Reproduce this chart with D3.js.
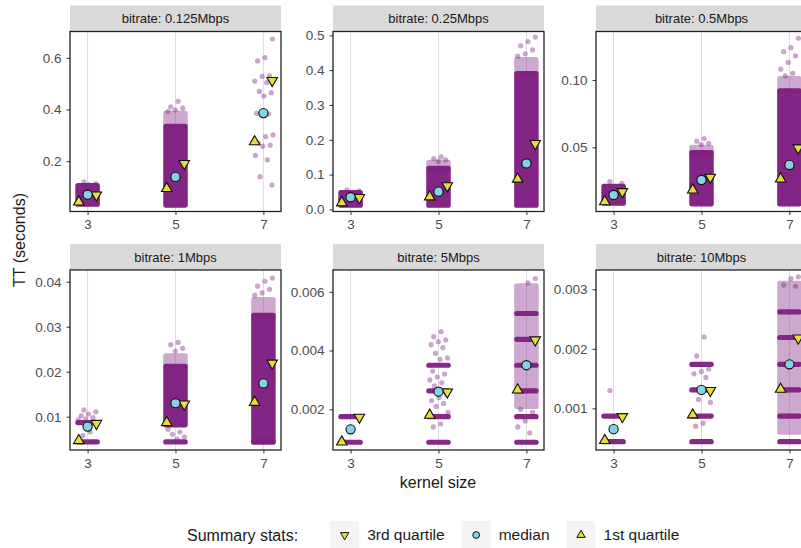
<!DOCTYPE html>
<html>
<head>
<meta charset="utf-8">
<script src="https://cdn.jsdelivr.net/npm/d3@7"></script>
<style>
  body { margin: 0; background: #fff; }
  svg { display: block; font-family: "Liberation Sans", Arial, sans-serif; }
</style>
</head>
<body>
<svg id="chart" width="801" height="548"></svg>
<script>
// facet labels and x categories
const bitrates = ["0.125Mbps", "0.25Mbps", "0.5Mbps", "1Mbps", "5Mbps", "10Mbps"];
const kernels = [3, 5, 7];

// y axis per facet (free scales)
const yDomains = [
  [0.005, 0.702], [-0.006, 0.511], [0.0023, 0.136],
  [0.0026, 0.0426], [0.000616, 0.00674], [0.0003, 0.003324]
];
const yTicks = [
  [0.2, 0.4, 0.6], [0, 0.1, 0.2, 0.3, 0.4, 0.5], [0.05, 0.1],
  [0.01, 0.02, 0.03, 0.04], [0.002, 0.004, 0.006], [0.001, 0.002, 0.003]
];
const yTickLabels = [
  ["0.2", "0.4", "0.6"], ["0.0", "0.1", "0.2", "0.3", "0.4", "0.5"], ["0.05", "0.10"],
  ["0.01", "0.02", "0.03", "0.04"], ["0.002", "0.004", "0.006"], ["0.001", "0.002", "0.003"]
];

// summary stats, [facet][kernel]
const q1 = [
  [0.042, 0.094, 0.275],
  [0.019, 0.036, 0.087],
  [0.0096, 0.0183, 0.0265],
  [0.0047, 0.0087, 0.0132],
  [0.00089, 0.0018, 0.00266],
  [0.00046, 0.00089, 0.00132]
];
const medians = [
  [0.07, 0.139, 0.386],
  [0.035, 0.051, 0.132],
  [0.0146, 0.0257, 0.0369],
  [0.0078, 0.013, 0.0174],
  [0.00132, 0.0026, 0.0035],
  [0.00065, 0.00131, 0.00174]
];
const q3 = [
  [0.069, 0.191, 0.512],
  [0.034, 0.068, 0.189],
  [0.017, 0.0277, 0.0495],
  [0.0085, 0.0128, 0.0219],
  [0.00173, 0.00259, 0.00436],
  [0.00086, 0.0013, 0.00218]
];

// raw TT observations: solid clouds, lighter clouds, repeated timer levels, loose points
const denseRanges = [
  [[[0.033, 0.105]], [[0.03, 0.335]], []],
  [[[0.012, 0.048]], [[0.012, 0.118]], [[0.012, 0.39]]],
  [[[0.0085, 0.021]], [[0.008, 0.046]], [[0.008, 0.092]]],
  [[], [[0.0082, 0.0212]], [[0.0044, 0.0325]]],
  [[], [], []],
  [[], [], []]
];
const sparseRanges = [
  [[], [[0.335, 0.385]], []],
  [[], [[0.118, 0.135]], [[0.39, 0.43]]],
  [[], [[0.046, 0.05]], [[0.092, 0.101]]],
  [[], [[0.0212, 0.0235]], [[0.0325, 0.036]]],
  [[], [], [[0.0021, 0.0062]]],
  [[], [], [[0.0006, 0.0031]]]
];
const bandLevels = [
  [[], [], []],
  [[], [], []],
  [[], [], []],
  [[0.0044, 0.0087], [0.0044], [0.0044]],
  [[0.00088, 0.00175], [0.00088, 0.00175, 0.00263, 0.0035],
   [0.00088, 0.00175, 0.00263, 0.0035, 0.00438, 0.00526]],
  [[0.00044, 0.00087], [0.00044, 0.00087, 0.00131, 0.00174],
   [0.00044, 0.00087, 0.00131, 0.00174, 0.00219, 0.00262]]
];
const scatterValues = [
  [[0.12, 0.113, 0.109],
   [0.432, 0.41, 0.405, 0.398, 0.392],
   [0.673, 0.601, 0.588, 0.53, 0.528, 0.51, 0.504, 0.47, 0.465, 0.452, 0.385, 0.383,
    0.38, 0.302, 0.295, 0.27, 0.262, 0.258, 0.222, 0.205, 0.14, 0.108]],
  [[0.056, 0.053],
   [0.151, 0.146, 0.142, 0.138],
   [0.495, 0.482, 0.47, 0.458, 0.447, 0.44]],
  [[0.0245, 0.0232],
   [0.0565, 0.0545, 0.053, 0.052],
   [0.131, 0.124, 0.121, 0.118, 0.113, 0.108, 0.105, 0.103]],
  [[0.0115, 0.0111, 0.0106, 0.0102, 0.0098, 0.0095, 0.0093, 0.0066, 0.0058],
   [0.0265, 0.026, 0.0252, 0.0246, 0.0072, 0.0066, 0.0061, 0.0055, 0.005],
   [0.0408, 0.0401, 0.039, 0.0383, 0.0375, 0.037]],
  [[],
   [0.00464, 0.00447, 0.00436, 0.0043, 0.0042, 0.0041, 0.0039, 0.00375, 0.0037, 0.0033,
    0.0032, 0.0031, 0.003, 0.0029, 0.0028, 0.0025, 0.0024, 0.0023, 0.0022, 0.0021,
    0.0019, 0.0015, 0.0014],
   [0.00645, 0.0063, 0.002, 0.0019, 0.0016, 0.0014, 0.0012]],
  [[0.0013],
   [0.0022, 0.00188, 0.00166, 0.00162, 0.00158, 0.00152, 0.00115, 0.0011, 0.00075, 0.0007],
   [0.00321, 0.00318, 0.00307, 0.00305]]
];

const legendLabels = ["3rd quartile", "median", "1st quartile"];

const purple = "#7e1e80";
const yellow = "#e4de3c";
const blue = "#84d2e2";
const jit = 0.22;
const r = 2.6;

const svg = d3.select("#chart");
svg.append("rect").attr("width", 801).attr("height", 548).attr("fill", "#fff");

const panelW = 211;
const panelH = 180;
const panelLeft = [70, 333, 596];
const panelTop = [31.5, 270];
const stripH = 26;

const triUp = d3.symbol().type(d3.symbolTriangle).size(48);
const triUpSmall = d3.symbol().type(d3.symbolTriangle).size(30);

function jitterOffset(i) {
  return (((i * 0.618034 + 0.31) % 1) * 2 - 1) * jit;
}

bitrates.forEach((rate, p) => {
  const left = panelLeft[p % 3];
  const top = panelTop[Math.floor(p / 3)];
  const x = d3.scaleLinear().domain([2.6, 7.4]).range([left, left + panelW]);
  const y = d3.scaleLinear().domain(yDomains[p]).range([top + panelH, top]);

  const g = svg.append("g");
  const clipId = `clip-${p}`;
  g.append("clipPath").attr("id", clipId)
    .append("rect").attr("x", left).attr("y", top).attr("width", panelW).attr("height", panelH);

  // strip
  g.append("rect")
    .attr("x", left).attr("y", top - stripH)
    .attr("width", panelW).attr("height", stripH)
    .attr("fill", "#d9d9d9");
  g.append("text")
    .attr("x", left + panelW / 2).attr("y", top - stripH / 2)
    .attr("dy", "0.35em").attr("text-anchor", "middle")
    .attr("font-size", 13).attr("fill", "#1a1a1a")
    .text(`bitrate: ${rate}`);

  const plot = g.append("g").attr("clip-path", `url(#${clipId})`);

  plot.selectAll("line.grid")
    .data(kernels)
    .join("line")
    .attr("x1", (d) => x(d)).attr("x2", (d) => x(d))
    .attr("y1", top).attr("y2", top + panelH)
    .attr("stroke", "#dcdcdc").attr("stroke-width", 1);

  kernels.forEach((k, ki) => {
    const rangeRect = (sel, ranges, opacity) => {
      sel.selectAll(null)
        .data(ranges)
        .join("rect")
        .attr("x", x(k - jit) - r)
        .attr("width", x(k + jit) - x(k - jit) + 2 * r)
        .attr("y", (d) => y(d[1]) - r)
        .attr("height", (d) => y(d[0]) - y(d[1]) + 2 * r)
        .attr("rx", r)
        .attr("fill", purple)
        .attr("opacity", opacity);
    };
    rangeRect(plot, sparseRanges[p][ki], 0.38);
    rangeRect(plot, denseRanges[p][ki], 0.97);
    rangeRect(plot, bandLevels[p][ki].map((v) => [v, v]), 0.95);

    plot.selectAll(null)
      .data(scatterValues[p][ki])
      .join("circle")
      .attr("cx", (d, i) => x(k + jitterOffset(i + ki * 7)))
      .attr("cy", (d) => y(d))
      .attr("r", r)
      .attr("fill", purple)
      .attr("opacity", 0.4);
  });

  // summary markers
  const stats = g.append("g");
  stats.selectAll(null)
    .data(kernels)
    .join("path")
    .attr("d", triUp)
    .attr("transform", (d, i) => `translate(${x(d - 0.2)},${y(q1[p][i])})`)
    .attr("fill", yellow).attr("stroke", "#111").attr("stroke-width", 1.1);
  stats.selectAll(null)
    .data(kernels)
    .join("path")
    .attr("d", triUp)
    .attr("transform", (d, i) => `translate(${x(d + 0.2)},${y(q3[p][i])}) rotate(180)`)
    .attr("fill", yellow).attr("stroke", "#111").attr("stroke-width", 1.1);
  stats.selectAll(null)
    .data(kernels)
    .join("circle")
    .attr("cx", (d) => x(d))
    .attr("cy", (d, i) => y(medians[p][i]))
    .attr("r", 4.6)
    .attr("fill", blue).attr("stroke", "#111").attr("stroke-width", 1.1);

  // axes
  const yAxis = g.append("g")
    .attr("transform", `translate(${left},0)`)
    .call(d3.axisLeft(y).tickValues(yTicks[p])
      .tickFormat((d, i) => yTickLabels[p][i]).tickSize(3.5).tickPadding(5));
  const xAxis = g.append("g")
    .attr("transform", `translate(0,${top + panelH})`)
    .call(d3.axisBottom(x).tickValues(kernels).tickFormat(d3.format("d"))
      .tickSize(3.5).tickPadding(4.5));
  [yAxis, xAxis].forEach((a) => {
    a.select(".domain").remove();
    a.selectAll(".tick line").attr("stroke", "#333");
    a.selectAll(".tick text").attr("fill", "#4d4d4d").attr("font-size", 13.5)
      .attr("font-family", "Liberation Sans, Arial, sans-serif");
  });

  g.append("rect")
    .attr("x", left).attr("y", top)
    .attr("width", panelW).attr("height", panelH)
    .attr("fill", "none").attr("stroke", "#222").attr("stroke-width", 1.3);
});

// axis titles
svg.append("text")
  .attr("transform", "translate(25,240) rotate(-90)")
  .attr("text-anchor", "middle")
  .attr("font-size", 16).attr("fill", "#1a1a1a")
  .text("TT (seconds)");
svg.append("text")
  .attr("x", 438).attr("y", 488)
  .attr("text-anchor", "middle")
  .attr("font-size", 16).attr("fill", "#1a1a1a")
  .text("kernel size");

// legend
const legend = svg.append("g");
const legendY = 535;
let lx = 187;
const title = legend.append("text")
  .attr("x", lx).attr("y", legendY).attr("dy", "0.35em")
  .attr("font-size", 16).attr("fill", "#1a1a1a")
  .text("Summary stats:");
lx += title.node().getComputedTextLength() + 32;

legendLabels.forEach((label, i) => {
  legend.append("rect")
    .attr("x", lx).attr("y", legendY - 14)
    .attr("width", 29).attr("height", 28)
    .attr("fill", "#f4f4f4");
  const cx = lx + 14.5;
  if (i === 1) {
    legend.append("circle").attr("cx", cx).attr("cy", legendY).attr("r", 3.4)
      .attr("fill", blue).attr("stroke", "#111").attr("stroke-width", 1);
  } else {
    legend.append("path").attr("d", triUpSmall)
      .attr("transform", `translate(${cx},${legendY})${i === 0 ? " rotate(180)" : ""}`)
      .attr("fill", yellow).attr("stroke", "#111").attr("stroke-width", 1);
  }
  lx += 29 + 8;
  const t = legend.append("text")
    .attr("x", lx).attr("y", legendY).attr("dy", "0.35em")
    .attr("font-size", 15.5).attr("fill", "#1a1a1a")
    .text(label);
  lx += t.node().getComputedTextLength() + 17;
});
</script>
</body>
</html>
